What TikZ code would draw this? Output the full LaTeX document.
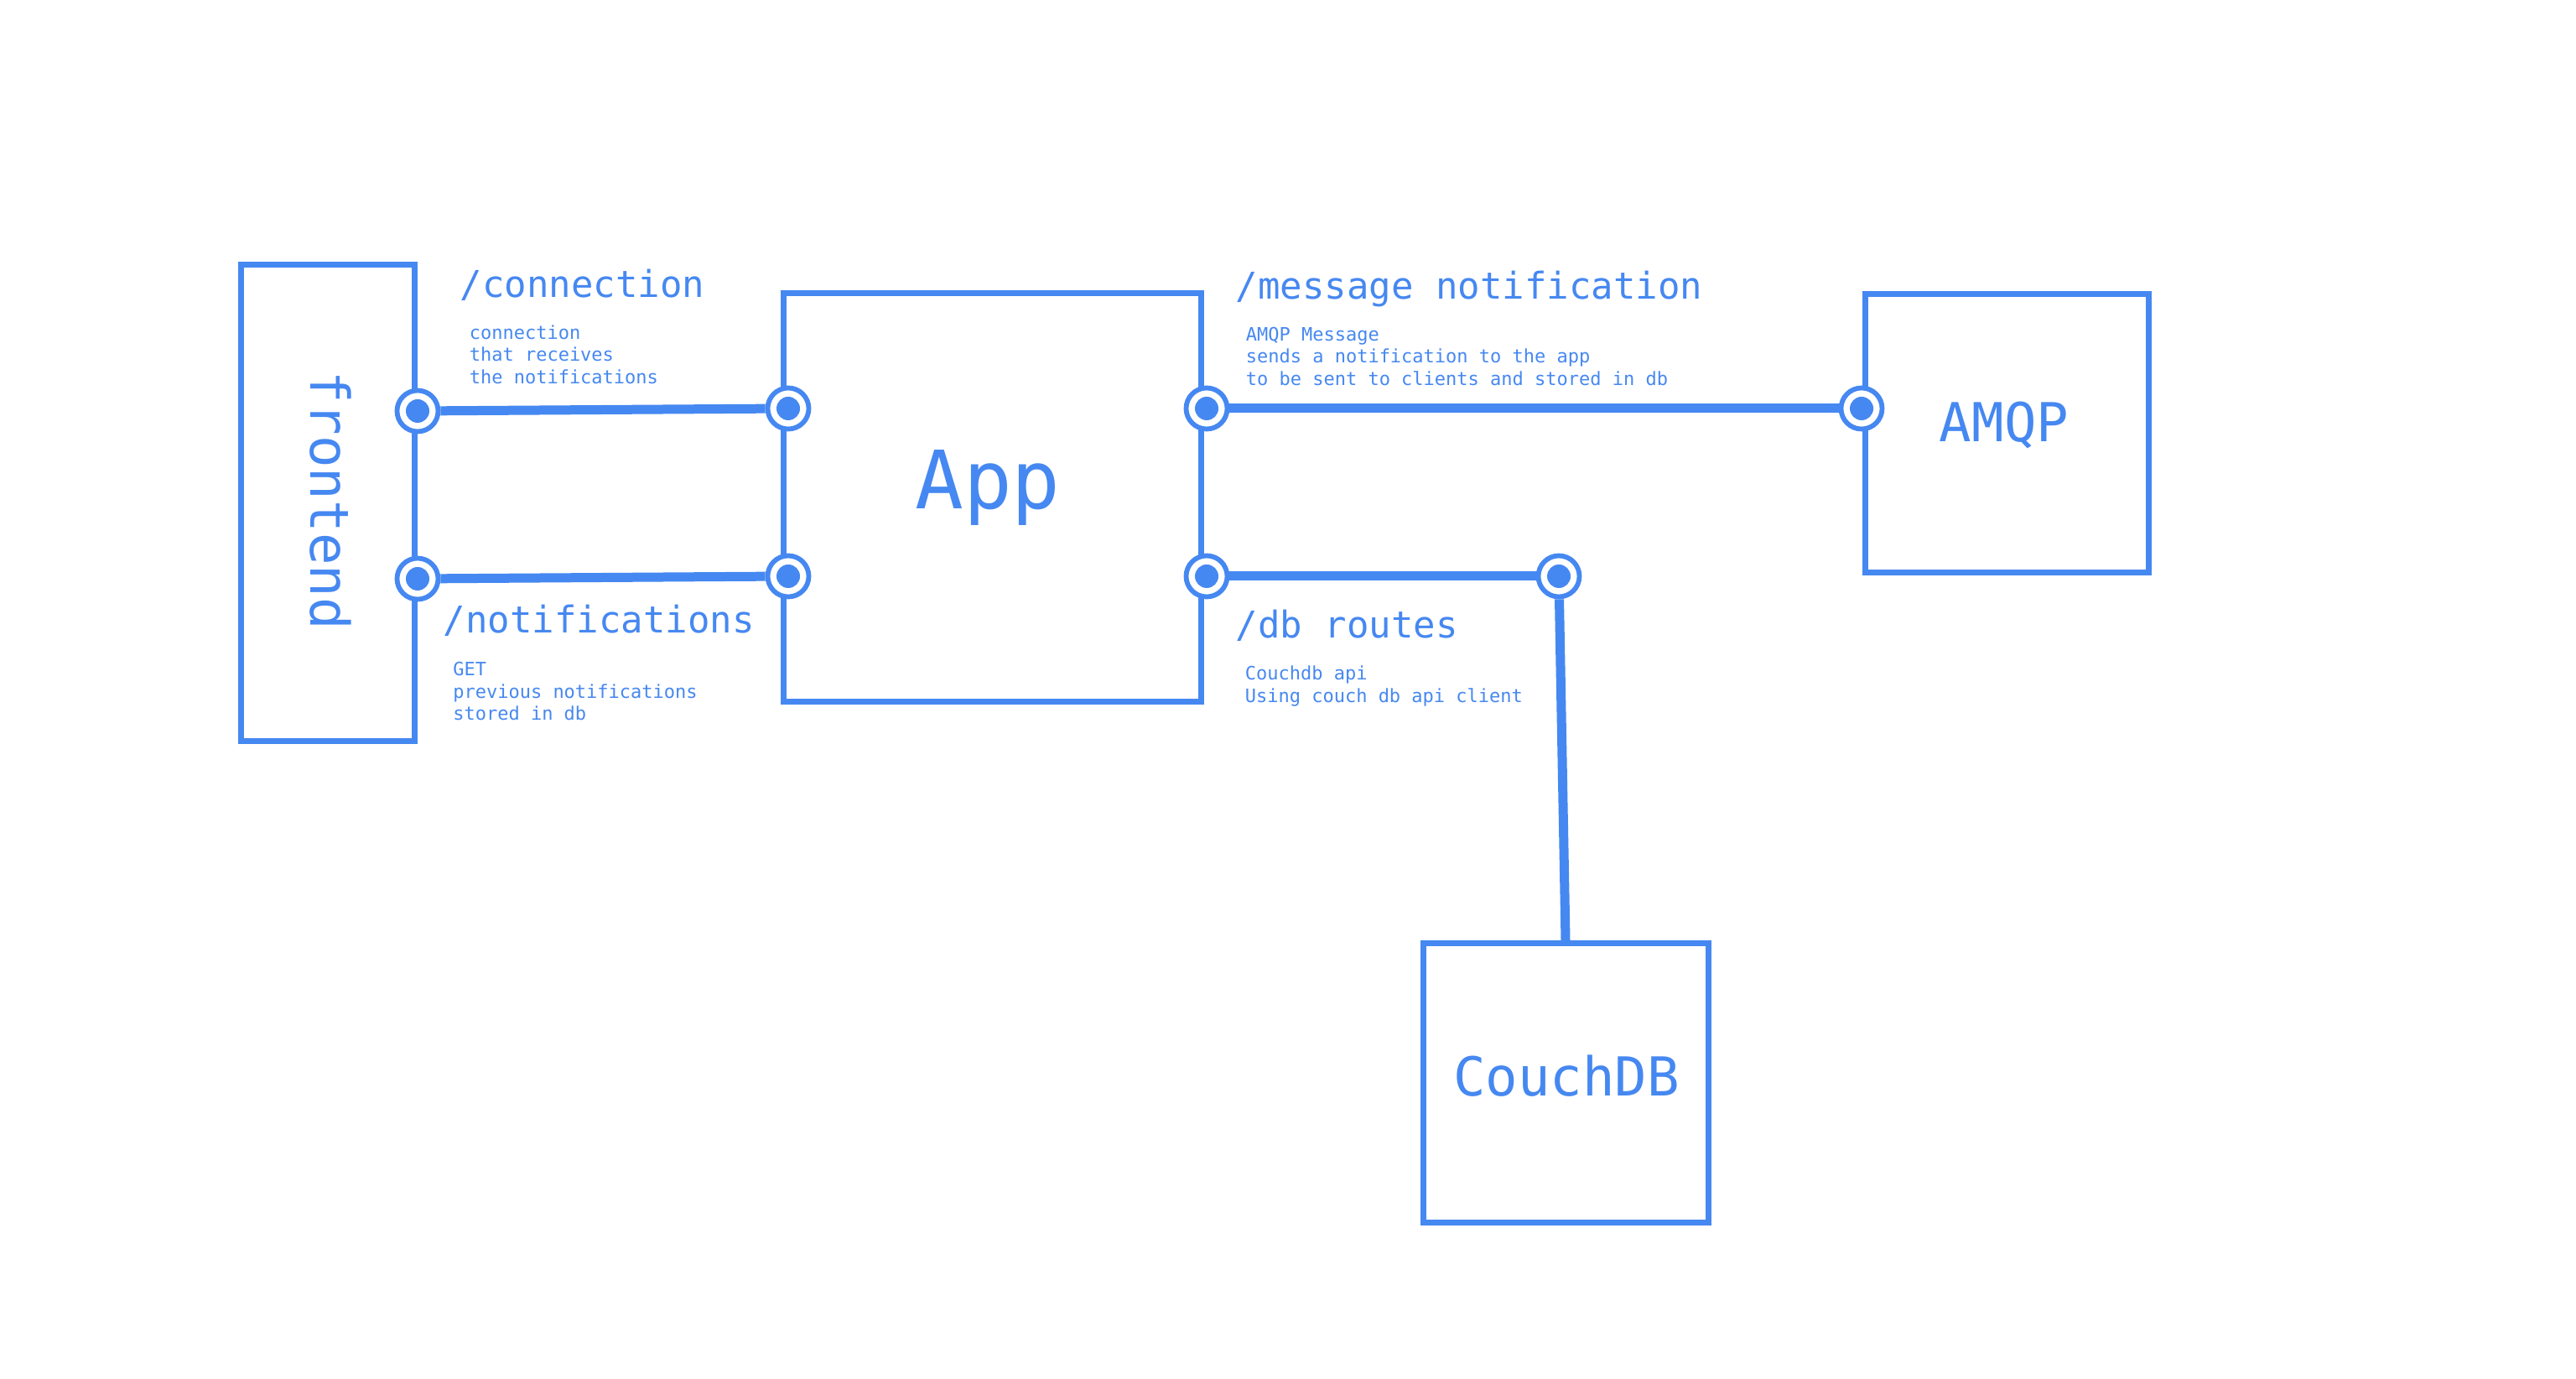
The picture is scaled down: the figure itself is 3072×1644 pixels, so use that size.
\documentclass[tikz,border=0pt]{standalone}
\usepackage{fontspec}
\setmainfont{DejaVu Sans Mono}
\definecolor{gblue}{RGB}{70,136,241}
\begin{document}
\begin{tikzpicture}[x=0.25pt,y=-0.25pt,
  box/.style={rectangle,draw=gblue,line width=1.75pt,inner sep=0pt},
  port/.style={circle,draw=gblue,fill=white,line width=1.45pt,minimum size=12.25pt,inner sep=0pt,
    path picture={\fill[gblue] (path picture bounding box.center) circle[radius=3.5pt];}},
  wire/.style={draw=gblue,line width=2.75pt},
  big/.style={text=gblue,font=\fontsize{16}{19}\selectfont,inner sep=0pt,anchor=base},
  head/.style={text=gblue,font=\fontsize{11}{13}\selectfont,inner sep=0pt,anchor=base west},
  note/.style={text=gblue,font=\fontsize{5.5}{6.625}\selectfont,inner sep=0pt,anchor=base west}]
\useasboundingbox[fill=white] (0,0) rectangle (3072,1644);

% boxes
\node[box,minimum width=51.75pt,minimum height=142pt] (front) at (390.5,600) {};
\node[box,minimum width=124.5pt,minimum height=121.625pt] (app) at (1183,593.25) {};
\node[box,minimum width=84.5pt,minimum height=83pt] (amqp) at (2393,517) {};
\node[box,minimum width=85pt,minimum height=83pt] (couch) at (1867,1291) {};

% box labels
\node[big,rotate=-90] (frontlbl) at (370,596.5) {frontend};
\node[big,font=\fontsize{24}{28}\selectfont] (applbl) at (1178,607) {App};
\node[big] (amqplbl) at (2390,526.7) {AMQP};
\node[big] (couchlbl) at (1868,1306.8) {CouchDB};

% ports
\node[port] (fp1) at (498,490) {};
\node[port] (fp2) at (498,690) {};
\node[port] (ap1) at (940,487) {};
\node[port] (ap2) at (940,687) {};
\node[port] (ap3) at (1439,487) {};
\node[port] (ap4) at (1439,687) {};
\node[port] (qp) at (2220,487) {};
\node[port] (dp) at (1859,687) {};

% connectors
\draw[wire] (fp1) -- (ap1);
\draw[wire] (fp2) -- (ap2);
\draw[wire] (ap3) -- (qp);
\draw[wire] (ap4) -- (dp);
\draw[wire] (dp) -- (couch.north);

% route labels
\node[head] (h1) at (548,355) {/connection};
\node[note] (n1) at (559,404.5) {\begin{tabular}[t]{@{}l@{}}connection\\that receives\\the notifications\end{tabular}};
\node[head] (h2) at (528,754.5) {/notifications};
\node[note] (n2) at (539.5,806) {\begin{tabular}[t]{@{}l@{}}GET\\previous notifications\\stored in db\end{tabular}};
\node[head] (h3) at (1473,356.6) {/message notification};
\node[note] (n3) at (1485,406.4) {\begin{tabular}[t]{@{}l@{}}AMQP Message\\sends a notification to the app\\to be sent to clients and stored in db\end{tabular}};
\node[head] (h4) at (1473,761) {/db routes};
\node[note] (n4) at (1484,811) {\begin{tabular}[t]{@{}l@{}}Couchdb api\\Using couch db api client\end{tabular}};
\end{tikzpicture}
\end{document}
